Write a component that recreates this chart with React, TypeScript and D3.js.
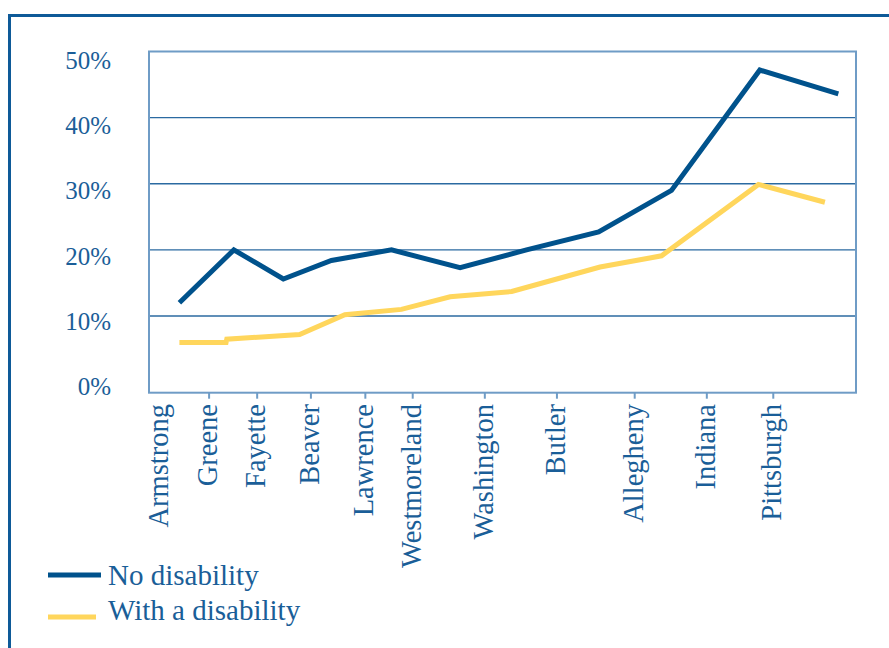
import React, { useEffect, useRef } from 'react';
import * as d3 from 'd3';

// x positions are in percent of the plot width (the source spaces places unevenly)
const places = [
  'Armstrong', 'Greene', 'Fayette', 'Beaver', 'Lawrence', 'Westmoreland',
  'Washington', 'Butler', 'Allegheny', 'Indiana', 'Pittsburgh',
];
const placePos = [1.6, 8.5, 15.3, 22.9, 30.6, 37.3, 47.5, 57.7, 68.7, 78.9, 88.3];

const noDisabilityX = [4.3, 12.0, 19.0, 25.8, 34.3, 44.0, 53.4, 63.6, 73.9, 86.4, 97.5];
const noDisabilityY = [12.0, 20.0, 15.6, 18.4, 20.0, 17.3, 20.0, 22.7, 29.0, 47.2, 43.6];

const withDisabilityX = [4.3, 10.9, 11.0, 21.3, 27.7, 35.7, 42.6, 51.3, 63.8, 72.5, 86.2, 95.6];
const withDisabilityY = [6.0, 6.0, 6.5, 7.2, 10.2, 11.0, 12.9, 13.7, 17.4, 19.1, 29.9, 27.2];

const yTicks = [0, 10, 20, 30, 40, 50];
const legendLabels = ['No disability', 'With a disability'];

const DARK = '#00528c';
const YELLOW = '#ffd65c';
const TEXT = '#1a5e98';
const FRAME = '#6f9cc6';
const GRID = '#2b6aa1';
const FONT = '"Liberation Serif", "Times New Roman", serif';

const W = 889;
const H = 648;

export default function App() {
  const svgRef = useRef<SVGSVGElement>(null);

  useEffect(() => {
    if (!svgRef.current) return;
    const svg = d3.select(svgRef.current);
    svg.selectAll('*').remove();

    const left = 149;
    const right = 856;
    const top = 51.5;
    const bottom = 392.7;

    const x = d3.scaleLinear().domain([0, 100]).range([left, right]);
    const y = d3.scaleLinear().domain([-1.6, 50]).range([bottom, top]);
    // tick labels sit on their own slightly wider spacing
    const yLabel = d3.scaleLinear().domain([0, 50]).range([395, 69]);

    // outer frame
    svg.append('rect')
      .attr('x', 9.5).attr('y', 15.5)
      .attr('width', 1000).attr('height', 1000)
      .attr('fill', 'none')
      .attr('stroke', '#0e5a98')
      .attr('stroke-width', 3);

    // gridlines
    svg.append('g')
      .selectAll('line')
      .data(yTicks.filter((d) => d > 0 && d < 50))
      .enter()
      .append('line')
      .attr('x1', left).attr('x2', right)
      .attr('y1', (d) => y(d)).attr('y2', (d) => y(d))
      .attr('stroke', GRID)
      .attr('stroke-width', 1.3);

    // plot frame
    svg.append('rect')
      .attr('x', left).attr('y', top)
      .attr('width', right - left).attr('height', bottom - top)
      .attr('fill', 'none')
      .attr('stroke', FRAME)
      .attr('stroke-width', 2);

    // y labels
    svg.append('g')
      .selectAll('text')
      .data(yTicks)
      .enter()
      .append('text')
      .attr('x', 111)
      .attr('y', (d) => yLabel(d))
      .attr('text-anchor', 'end')
      .attr('font-family', FONT)
      .attr('font-size', 25)
      .attr('fill', TEXT)
      .text((d) => `${d}%`);

    // x ticks (first label has none)
    svg.append('g')
      .selectAll('line')
      .data(placePos.slice(1))
      .enter()
      .append('line')
      .attr('x1', (d) => x(d)).attr('x2', (d) => x(d))
      .attr('y1', bottom).attr('y2', bottom + 6)
      .attr('stroke', FRAME)
      .attr('stroke-width', 2);

    // x labels, rotated
    svg.append('g')
      .selectAll('text')
      .data(places)
      .enter()
      .append('text')
      .attr('transform', (_, i) => `translate(${x(placePos[i]) - 2},404) rotate(-90)`)
      .attr('dy', '0.35em')
      .attr('text-anchor', 'end')
      .attr('font-family', FONT)
      .attr('font-size', 28.5)
      .attr('fill', TEXT)
      .text((d) => d);

    const line = d3.line<[number, number]>()
      .x((d) => x(d[0]))
      .y((d) => y(d[1]));

    const series = [
      { color: DARK, pts: noDisabilityX.map((v, i) => [v, noDisabilityY[i]] as [number, number]) },
      { color: YELLOW, pts: withDisabilityX.map((v, i) => [v, withDisabilityY[i]] as [number, number]) },
    ];

    svg.append('g')
      .selectAll('path')
      .data(series.slice().reverse())
      .enter()
      .append('path')
      .attr('d', (d) => line(d.pts))
      .attr('fill', 'none')
      .attr('stroke', (d) => d.color)
      .attr('stroke-width', 5)
      .attr('stroke-linejoin', 'miter')
      .attr('stroke-linecap', 'butt');

    // legend
    const legend = svg.append('g');
    const legendY = [575, 617];
    const legendLen = [53, 48];
    legendLabels.forEach((label, i) => {
      legend.append('line')
        .attr('x1', 48).attr('x2', 48 + legendLen[i])
        .attr('y1', legendY[i]).attr('y2', legendY[i])
        .attr('stroke', series[i].color)
        .attr('stroke-width', 5);
      legend.append('text')
        .attr('x', 108)
        .attr('y', legendY[i] + (i === 0 ? 10 : 3))
        .attr('font-family', FONT)
        .attr('font-size', 29)
        .attr('fill', TEXT)
        .text(label);
    });
  }, []);

  return (
    <svg
      ref={svgRef}
      width={W}
      height={H}
      style={{ position: 'absolute', left: 0, top: 0, background: '#fff' }}
    />
  );
}
